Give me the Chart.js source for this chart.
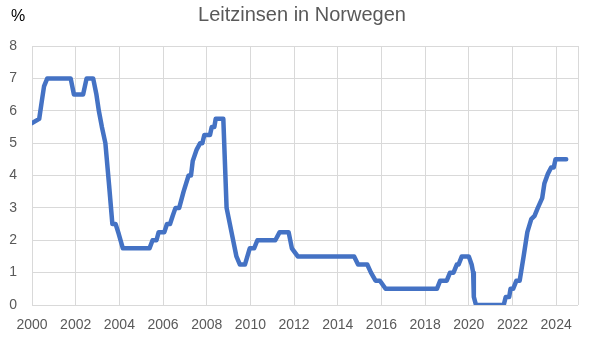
<!DOCTYPE html>
<html>
<head>
<meta charset="utf-8">
<script src="https://cdn.jsdelivr.net/npm/chart.js@4"></script>
<style>
  html, body { margin: 0; padding: 0; background: #fff; }
  #wrap { width: 590px; height: 338px; position: relative; }
</style>
</head>
<body>
<div id="wrap"><canvas id="myChart"></canvas></div>
<script>
"use strict";

const chartTitle = "Leitzinsen in Norwegen";
const unitLabel = "%";
const lineColor = "#4472c4";
const gridColor = "#d9d9d9";
const textColor = "#595959";

// policy rate, date as decimal year
const years = [
  2000.00, 2000.33, 2000.45, 2000.55, 2000.70, 2001.77, 2001.92, 2002.34, 2002.50, 2002.80,
  2002.95, 2003.06, 2003.20, 2003.36, 2003.53, 2003.68, 2003.83, 2003.97, 2004.16, 2005.38,
  2005.52, 2005.70, 2005.80, 2006.06, 2006.18, 2006.32, 2006.44, 2006.57, 2006.74, 2006.94,
  2007.17, 2007.28, 2007.36, 2007.54, 2007.70, 2007.80, 2007.89, 2008.15, 2008.23, 2008.35,
  2008.41, 2008.76, 2008.91, 2009.36, 2009.52, 2009.75, 2009.97, 2010.17, 2010.32, 2011.14,
  2011.34, 2011.75, 2011.90, 2012.17, 2014.75, 2014.93, 2015.35, 2015.52, 2015.73, 2015.93,
  2016.19, 2018.54, 2018.69, 2018.99, 2019.14, 2019.30, 2019.45, 2019.53, 2019.68, 2020.00,
  2020.13, 2020.20, 2020.23, 2020.33, 2021.60, 2021.69, 2021.85, 2021.91, 2022.03, 2022.18,
  2022.33, 2022.51, 2022.68, 2022.86, 2023.01, 2023.16, 2023.36, 2023.46, 2023.62, 2023.77,
  2023.89, 2023.97, 2024.46
];
const rates = [
  5.62, 5.75, 6.30, 6.75, 7.00, 7.00, 6.50, 6.50, 7.00, 7.00,
  6.50, 6.00, 5.50, 5.00, 3.70, 2.50, 2.50, 2.20, 1.75, 1.75,
  2.00, 2.00, 2.25, 2.25, 2.50, 2.50, 2.75, 3.00, 3.00, 3.50,
  4.00, 4.00, 4.45, 4.80, 5.00, 5.00, 5.25, 5.25, 5.50, 5.50,
  5.75, 5.75, 3.00, 1.50, 1.25, 1.25, 1.75, 1.75, 2.00, 2.00,
  2.25, 2.25, 1.75, 1.50, 1.50, 1.25, 1.25, 1.00, 0.75, 0.75,
  0.50, 0.50, 0.75, 0.75, 1.00, 1.00, 1.25, 1.25, 1.50, 1.50,
  1.25, 1.00, 0.25, 0.00, 0.00, 0.25, 0.25, 0.50, 0.50, 0.75,
  0.75, 1.50, 2.25, 2.65, 2.75, 3.00, 3.30, 3.75, 4.05, 4.25,
  4.25, 4.50, 4.50
];

// x grid positions; only the even years carry a label
const xTicks = [2000, 2002, 2004, 2006, 2008, 2010, 2012, 2014, 2016, 2018, 2020, 2022, 2024, 2025];
const xLabels = ["2000", "2002", "2004", "2006", "2008", "2010", "2012", "2014", "2016", "2018", "2020", "2022", "2024", ""];
const yTicks = [0, 1, 2, 3, 4, 5, 6, 7, 8];

// title and unit label drawn above the plot
const headerPlugin = {
  id: "header",
  afterDraw(chart) {
    const ctx = chart.ctx;
    ctx.save();
    ctx.textBaseline = "middle";
    ctx.fillStyle = textColor;
    ctx.font = "20px 'Liberation Sans', Arial, sans-serif";
    ctx.textAlign = "center";
    ctx.fillText(chartTitle, 302, 15);
    ctx.fillStyle = "#000";
    ctx.font = "16px 'Liberation Sans', Arial, sans-serif";
    ctx.textAlign = "left";
    ctx.fillText(unitLabel, 11, 17);
    ctx.restore();
  },
};

const data = {
  datasets: [
    {
      data: years.map((x, i) => ({ x, y: rates[i] })),
      borderColor: lineColor,
      borderWidth: 4.5,
      borderJoinStyle: "round",
      borderCapStyle: "round",
      pointRadius: 0,
      tension: 0,
      fill: false,
    },
  ],
};

const tickFont = { size: 14, family: "'Liberation Sans', Arial, sans-serif" };

const config = {
  type: "line",
  data,
  options: {
    responsive: false,
    animation: false,
    layout: {
      padding: { top: 46, right: 8, left: 0, bottom: 0 },
    },
    scales: {
      x: {
        type: "linear",
        min: xTicks[0],
        max: xTicks[xTicks.length - 1],
        grid: { color: gridColor, lineWidth: 1, drawTicks: false },
        border: { display: false },
        afterFit: (axis) => { axis.height = 33; },
        afterBuildTicks: (axis) => {
          axis.ticks = xTicks.map((value) => ({ value }));
        },
        ticks: {
          autoSkip: false,
          padding: 12,
          color: textColor,
          font: tickFont,
          maxRotation: 0,
          callback: (v, i) => xLabels[i],
        },
      },
      y: {
        min: yTicks[0],
        max: yTicks[yTicks.length - 1],
        grid: { color: gridColor, lineWidth: 1, drawTicks: false },
        border: { display: false },
        afterFit: (axis) => { axis.width = 32; },
        afterBuildTicks: (axis) => {
          axis.ticks = yTicks.map((value) => ({ value }));
        },
        ticks: {
          padding: 15,
          color: textColor,
          font: tickFont,
          callback: (v) => String(v),
        },
      },
    },
    plugins: {
      legend: { display: false },
      tooltip: { enabled: false },
      title: { display: false },
    },
  },
  plugins: [headerPlugin],
};

const canvas = document.getElementById("myChart");
canvas.width = 590;
canvas.height = 338;
const myChart = new Chart(canvas, config);
</script>
</body>
</html>
